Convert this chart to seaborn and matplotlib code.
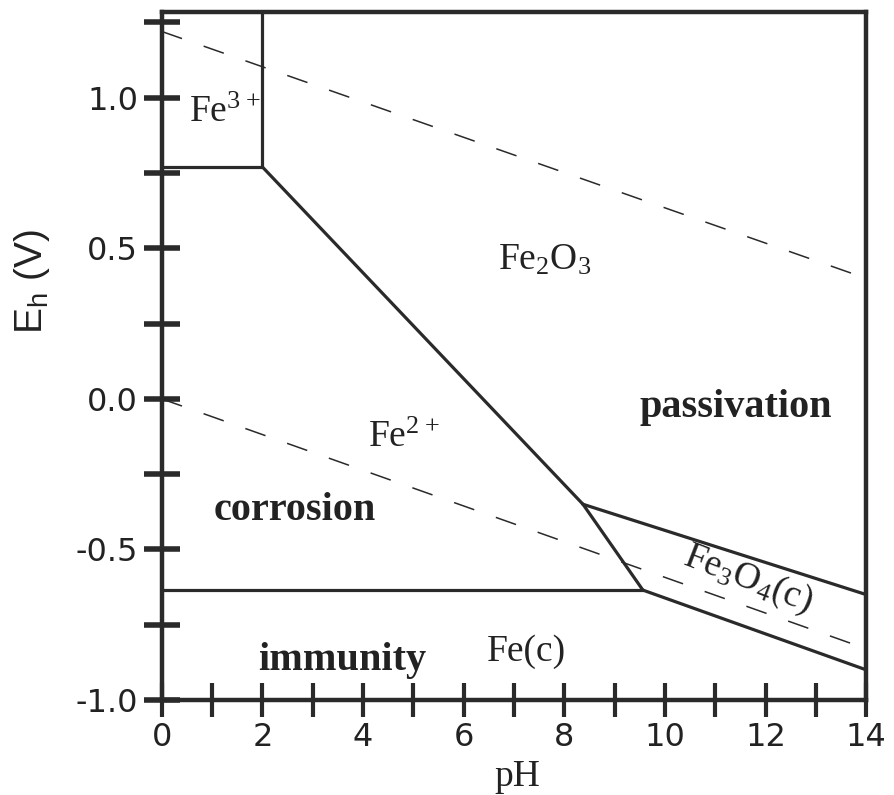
import matplotlib
matplotlib.use("Agg")
import matplotlib.pyplot as plt
import seaborn as sns
import pandas as pd

sns.set_theme(style="white")
plt.rcParams['font.family'] = ['DejaVu Sans']

# ---- data (pH, Eh in V) ----
fe3_fe2o3_ph = [2.0, 2.0]
fe3_fe2o3_eh = [1.28, 0.77]
fe3_fe2_ph = [0.0, 2.0]
fe3_fe2_eh = [0.77, 0.77]
fe2_fe2o3_ph = [2.0, 8.37]
fe2_fe2o3_eh = [0.77, -0.35]
fe2_fe3o4_ph = [8.37, 9.56]
fe2_fe3o4_eh = [-0.35, -0.635]
fe2_fe_ph = [0.0, 9.56]
fe2_fe_eh = [-0.635, -0.635]
fe2o3_fe3o4_ph = [8.37, 14.0]
fe2o3_fe3o4_eh = [-0.35, -0.65]
fe3o4_fe_ph = [9.56, 14.0]
fe3o4_fe_eh = [-0.635, -0.90]
o2_ph = [0.0, 14.0]
o2_eh = [1.22, 0.40]
h2_ph = [0.0, 14.0]
h2_eh = [0.0, -0.83]

x_major = [0, 2, 4, 6, 8, 10, 12, 14]
x_minor = [1, 3, 5, 7, 9, 11, 13]
y_major = [-1.0, -0.5, 0.0, 0.5, 1.0]
y_minor = [-0.75, -0.25, 0.25, 0.75, 1.25]
y_labels = ["-1.0", "-0.5", "0.0", "0.5", "1.0"]

labels = [
    (r"$\mathregular{Fe^{3+}}$", 1.25, 0.95, False, 0),
    (r"$\mathregular{Fe_2O_3}$", 7.6, 0.46, False, 0),
    ("passivation", 11.4, -0.03, True, 0),
    (r"$\mathregular{Fe^{2+}}$", 4.8, -0.13, False, 0),
    ("corrosion", 2.65, -0.37, True, 0),
    (r"$\mathregular{Fe_3O_4(c)}$", 11.65, -0.60, False, -21),
    ("immunity", 3.58, -0.87, True, 0),
    ("Fe(c)", 7.25, -0.84, False, 0),
]

fig = plt.figure(figsize=(8.94, 7.95), dpi=100)
ax = fig.add_axes([0.181, 0.1195, 0.788, 0.8655])

solid = [
    (fe3_fe2o3_ph, fe3_fe2o3_eh), (fe3_fe2_ph, fe3_fe2_eh),
    (fe2_fe2o3_ph, fe2_fe2o3_eh), (fe2_fe3o4_ph, fe2_fe3o4_eh),
    (fe2_fe_ph, fe2_fe_eh), (fe2o3_fe3o4_ph, fe2o3_fe3o4_eh),
    (fe3o4_fe_ph, fe3o4_fe_eh),
]
for xs, ys in solid:
    df = pd.DataFrame({"pH": xs, "Eh": ys})
    sns.lineplot(data=df, x="pH", y="Eh", ax=ax, color="#2a2a2a",
                 linewidth=2.3, sort=False, estimator=None)

for xs, ys in [(o2_ph, o2_eh), (h2_ph, h2_eh)]:
    df = pd.DataFrame({"pH": xs, "Eh": ys})
    sns.lineplot(data=df, x="pH", y="Eh", ax=ax, color="#2a2a2a",
                 linewidth=1.1, sort=False, estimator=None,
                 dashes=False, linestyle=(0, (14, 15)))

for txt, x, y, bold, rot in labels:
    ax.text(x, y, txt, family=["Liberation Serif", "DejaVu Serif"],
            fontsize=29 if bold else 27,
            fontweight="bold" if bold else "normal",
            ha="center", va="center", rotation=rot,
            rotation_mode="anchor", color="#222222")

ax.set_xlim(0, 14)
ax.set_ylim(-1.0, 1.285)
ax.set_xticks(x_major)
ax.set_xticks(x_minor, minor=True)
ax.set_yticks(y_major)
ax.set_yticklabels(y_labels)
ax.set_yticks(y_minor, minor=True)
ax.set_xlabel("")
ax.set_ylabel("")
ax.tick_params(axis="x", which="both", direction="inout", length=24,
               width=3, colors="#2a2a2a", labelsize=23, pad=4,
               bottom=True, top=False, labelcolor="#222222")
ax.tick_params(axis="y", which="both", direction="inout", length=26,
               width=4, colors="#2a2a2a", labelsize=23, pad=4,
               left=True, right=False, labelcolor="#222222")

for sp in ax.spines.values():
    sp.set_linewidth(3.2)
    sp.set_color("#2a2a2a")
    sp.set_visible(True)

# axis titles placed in figure pixel coordinates
W, H = 894, 795
fig.text(517 / W, 1 - 786 / H, "pH", family=["Liberation Serif"],
         fontsize=27, ha="center", va="baseline", color="#222222")
fig.text(32 / W, 1 - 282 / H, r"$\mathregular{E_h}$ (V)",
         family=["Liberation Sans"], fontsize=28, rotation=90,
         ha="center", va="center", color="#222222")

fig.savefig("out.png", dpi=100, facecolor="white")
